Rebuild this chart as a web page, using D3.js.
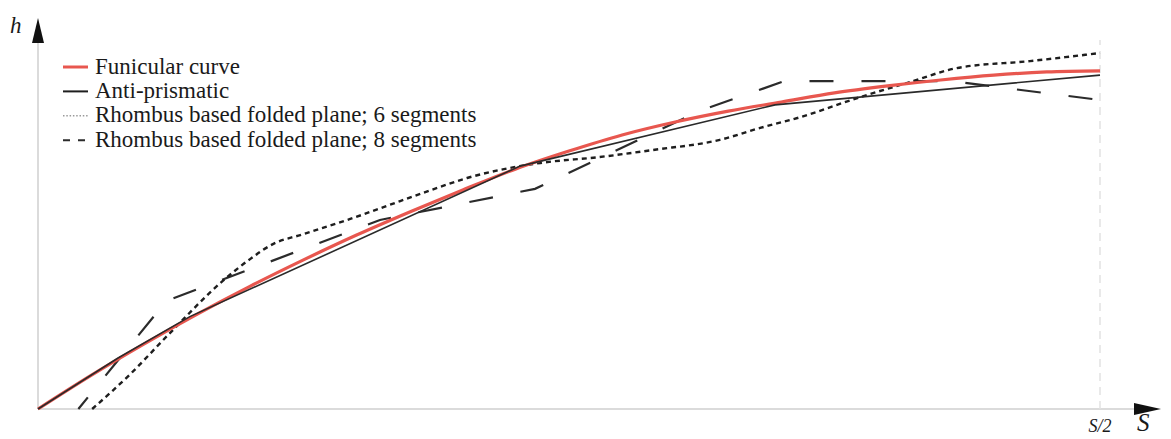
<!DOCTYPE html>
<html>
<head>
<meta charset="utf-8">
<script src="https://cdn.jsdelivr.net/npm/d3@7"></script>
<style>
  html, body { margin: 0; padding: 0; background: #fff; }
  svg { display: block; }
  text { font-family: "Liberation Serif", "Times New Roman", serif; fill: #1a1a1a; }
</style>
</head>
<body>
<svg id="chart" width="1171" height="439"></svg>
<script>
// Span position s as a fraction of S/2, and rise h (relative units).
const funicularS = [0, .05, .10, .15, .20, .25, .30, .35, .40, .45, .50, .55, .60, .65, .70, .75, .80, .85, .90, .95, 1];
const funicularH = [0, .096, .186, .271, .351, .426, .497, .563, .626, .686, .737, .783, .820, .851, .877, .903, .923, .940, .954, .963, .966];

const antiPrismaticS = [0, .075, .143, .454, .694, 1];
const antiPrismaticH = [0, .145, .264, .694, .869, .954];

const rhombus6S = [.051, .087, .122, .174, .200, .223, .247, .294, .341, .378, .404, .435, .473, .529, .579, .642, .680, .718, .774, .821, .865, .934, 1];
const rhombus6H = [0, .100, .210, .366, .429, .474, .497, .543, .594, .634, .660, .683, .703, .720, .740, .769, .803, .834, .891, .934, .974, .994, 1.017];

const rhombus8S = [.038, .121, .322, .468, .625, .703, .859, 1];
const rhombus8H = [0, .309, .540, .629, .854, .937, .937, .883];

const legendLabels = [
  "Funicular curve",
  "Anti-prismatic",
  "Rhombus based folded plane; 6 segments",
  "Rhombus based folded plane; 8 segments"
];
const xTickLabel = "S/2";
const xAxisLabel = "S";
const yAxisLabel = "h";

const svg = d3.select("#chart");
const x = d3.scaleLinear().domain([0, 1]).range([38, 1100]);
const y = d3.scaleLinear().domain([0, 1]).range([409, 59]);

const zip = (a, b) => a.map((v, i) => [v, b[i]]);

// Axes
svg.append("line")
  .attr("x1", x(0)).attr("y1", y(0)).attr("x2", 1136).attr("y2", y(0))
  .attr("stroke", "#cfcfcf").attr("stroke-width", 1.5);
svg.append("line")
  .attr("x1", x(0)).attr("y1", y(0)).attr("x2", x(0)).attr("y2", 42)
  .attr("stroke", "#cfcfcf").attr("stroke-width", 1.5);
svg.append("path")
  .attr("d", `M${x(0)},18 L${x(0) - 6},43 L${x(0) + 6},43 Z`)
  .attr("fill", "#111");
svg.append("path")
  .attr("d", `M1161,${y(0)} L1134,${y(0) - 6} L1134,${y(0) + 6} Z`)
  .attr("fill", "#111");

// Mid-span reference line at S/2
svg.append("line")
  .attr("x1", x(1)).attr("y1", y(0)).attr("x2", x(1)).attr("y2", 40)
  .attr("stroke", "#e2e2e2").attr("stroke-width", 1.5)
  .attr("stroke-dasharray", "8,6");

svg.append("text")
  .attr("x", x(1)).attr("y", 432)
  .attr("text-anchor", "middle")
  .attr("font-size", 18).attr("font-style", "italic")
  .text(xTickLabel);
svg.append("text")
  .attr("x", 1137).attr("y", 431)
  .attr("font-size", 25).attr("font-style", "italic")
  .text(xAxisLabel);
svg.append("text")
  .attr("x", 10).attr("y", 33)
  .attr("font-size", 23).attr("font-style", "italic")
  .text(yAxisLabel);

const line = d3.line().x(d => x(d[0])).y(d => y(d[1]));
const smooth = d3.line().x(d => x(d[0])).y(d => y(d[1])).curve(d3.curveMonotoneX);

// Rhombus folded plane, 8 segments
svg.append("path")
  .datum(zip(rhombus8S, rhombus8H))
  .attr("d", line)
  .attr("fill", "none").attr("stroke", "#2b2b2b").attr("stroke-width", 2.2)
  .attr("stroke-dasharray", "24,28").attr("stroke-dashoffset", 9);

// Rhombus folded plane, 6 segments
svg.append("path")
  .datum(zip(rhombus6S, rhombus6H))
  .attr("d", smooth)
  .attr("fill", "none").attr("stroke", "#1e1e1e").attr("stroke-width", 2.4)
  .attr("stroke-dasharray", "5,4");

// Funicular curve
svg.append("path")
  .datum(zip(funicularS, funicularH))
  .attr("d", smooth)
  .attr("fill", "none").attr("stroke", "#e8574f").attr("stroke-width", 3.2);

// Anti-prismatic
svg.append("path")
  .datum(zip(antiPrismaticS, antiPrismaticH))
  .attr("d", line)
  .attr("fill", "none").attr("stroke", "#2a2a2a").attr("stroke-width", 1.6);

// Legend
const legendStyles = [
  { stroke: "#e8574f", width: 3, dash: null },
  { stroke: "#1e1e1e", width: 2, dash: null },
  { stroke: "#9a9a9a", width: 1.6, dash: "1.5,1.8" },
  { stroke: "#2b2b2b", width: 2, dash: "7,8" }
];
const legend = svg.append("g");
legendLabels.forEach((label, i) => {
  const cy = 67 + i * 24.4;
  const st = legendStyles[i];
  const l = legend.append("line")
    .attr("x1", 63).attr("x2", 88).attr("y1", cy).attr("y2", cy)
    .attr("stroke", st.stroke).attr("stroke-width", st.width);
  if (st.dash) l.attr("stroke-dasharray", st.dash);
  legend.append("text")
    .attr("x", 95).attr("y", cy + 6.5)
    .attr("font-size", 23)
    .text(label);
});
</script>
</body>
</html>
